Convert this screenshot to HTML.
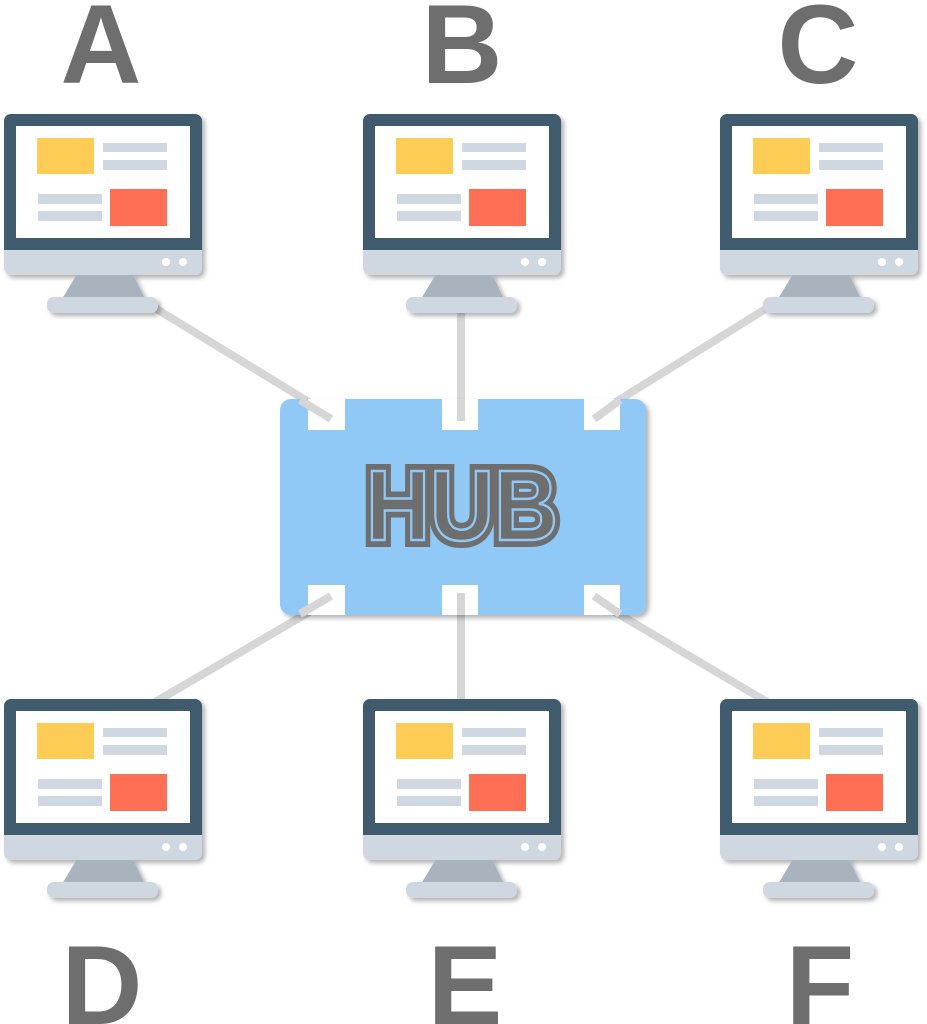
<!DOCTYPE html>
<html><head><meta charset="utf-8"><style>
html,body{margin:0;padding:0;background:#fff;}
svg{display:block;}
text{font-family:"Liberation Sans",sans-serif;font-weight:bold;}
</style></head><body>
<svg width="927" height="1024" viewBox="0 0 927 1024" xmlns="http://www.w3.org/2000/svg">
<defs>
<filter id="sh" x="-10%" y="-10%" width="130%" height="130%"><feDropShadow dx="3" dy="3" stdDeviation="2.5" flood-color="#000" flood-opacity="0.3"/></filter>
<g id="mon">
 <g filter="url(#sh)">
  <polygon points="77,274 133,274 145,299 62,299" fill="#a9b3bd"/>
  <rect x="47" y="297" width="111" height="16" rx="7" fill="#cfd7e1"/>
  <rect x="4" y="230" width="198" height="45" rx="7" fill="#cfd7e1"/>
  <path d="M11,114 H195 A7,7 0 0 1 202,121 V250 H4 V121 A7,7 0 0 1 11,114 Z" fill="#415a6e"/>
 </g>
 <rect x="16" y="126" width="174" height="112" fill="#fff"/>
 <rect x="37" y="138" width="57" height="36" fill="#ffcd56"/>
 <rect x="103" y="143" width="64" height="9" fill="#cfd7e1"/>
 <rect x="103" y="160" width="64" height="10" fill="#cfd7e1"/>
 <rect x="38" y="194" width="64" height="10" fill="#cfd7e1"/>
 <rect x="38" y="211" width="64" height="10" fill="#cfd7e1"/>
 <rect x="110" y="189" width="57" height="37" fill="#ff6f55"/>
 <circle cx="166" cy="262" r="4" fill="#fff"/>
 <circle cx="183" cy="262" r="4" fill="#fff"/>
</g>
</defs>
<g stroke="#d6d6d6" stroke-width="8">
 <line x1="150" y1="305" x2="335" y2="418"/>
 <line x1="461" y1="305" x2="461" y2="418"/>
 <line x1="772" y1="305" x2="590" y2="418"/>
 <line x1="150" y1="705" x2="335" y2="597"/>
 <line x1="461" y1="705" x2="461" y2="597"/>
 <line x1="772" y1="705" x2="590" y2="597"/>
</g>
<use href="#mon"/>
<use href="#mon" x="359"/>
<use href="#mon" x="716"/>
<use href="#mon" y="585"/>
<use href="#mon" x="359" y="585"/>
<use href="#mon" x="716" y="585"/>
<rect x="280" y="399" width="366" height="216" rx="11" fill="#90c8f6" filter="url(#sh)"/>
<g fill="#fff">
 <rect x="308" y="399" width="37" height="31"/>
 <rect x="442" y="399" width="36" height="31"/>
 <rect x="584" y="399" width="36" height="31"/>
 <rect x="308" y="585" width="37" height="30"/>
 <rect x="442" y="585" width="36" height="30"/>
 <rect x="584" y="585" width="36" height="30"/>
</g>
<g stroke="#d6d6d6" stroke-width="8">
 <line x1="300" y1="400" x2="331" y2="419"/>
 <line x1="461" y1="399" x2="461" y2="421"/>
 <line x1="620" y1="400" x2="594" y2="419"/>
 <line x1="300" y1="614" x2="331" y2="596"/>
 <line x1="461" y1="615" x2="461" y2="593"/>
 <line x1="620" y1="614" x2="594" y2="596"/>
</g>
<text x="462" y="540" font-size="100" text-anchor="middle" fill="#6e6e6e" stroke="#6e6e6e" stroke-width="14" stroke-linejoin="miter" textLength="192" lengthAdjust="spacingAndGlyphs">HUB</text>
<text x="462" y="540" font-size="100" text-anchor="middle" fill="#6e6e6e" stroke="#90c8f6" stroke-width="2.5" stroke-linejoin="miter" textLength="192" lengthAdjust="spacingAndGlyphs">HUB</text>
<g fill="#6e6e6e" font-size="112" text-anchor="middle">
 <text x="101" y="83">A</text>
 <text x="462" y="83">B</text>
 <text x="818" y="83">C</text>
 <text x="102" y="1024">D</text>
 <text x="465" y="1024">E</text>
 <text x="820" y="1024">F</text>
</g>
</svg>
</body></html>
